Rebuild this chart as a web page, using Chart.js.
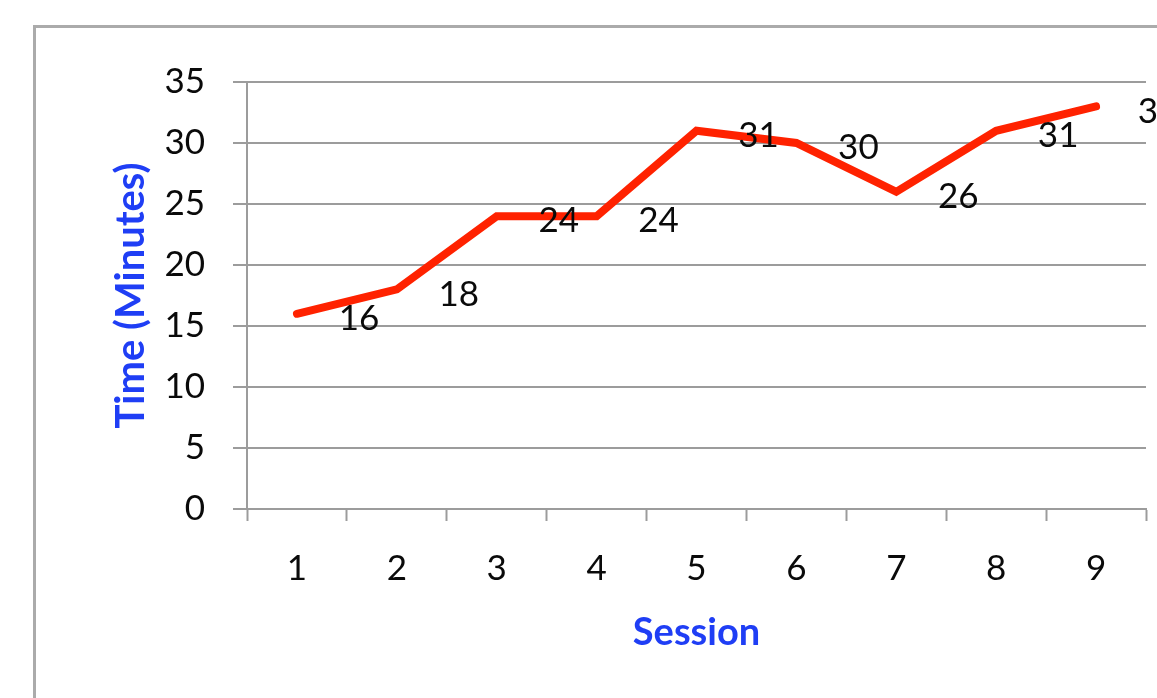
<!DOCTYPE html>
<html>
<head>
<meta charset="utf-8">
<title>Session times</title>
<script src="https://cdn.jsdelivr.net/npm/chart.js@4.4.1/dist/chart.umd.min.js"></script>
<style>
  html, body { margin: 0; padding: 0; background: #ffffff; }
  #wrap { width: 1157px; height: 698px; position: relative; }
</style>
</head>
<body>
<div id="wrap"><canvas id="chart" width="1157" height="698"></canvas></div>
<script>
// Session numbers along the bottom
const sessions = ['1', '2', '3', '4', '5', '6', '7', '8', '9'];
// Minutes spent in each session
const minutes = [16, 18, 24, 24, 31, 30, 26, 31, 33];
// Value axis range and step
const yMin = 0;
const yMax = 35;
const yStep = 5;

const FONT = 'Lato, "Open Sans", "DejaVu Sans", sans-serif';
const GRID = '#9c9c9c';
const TITLE_BLUE = '#1f3ef5';

// Grey frame around the chart
const framePlugin = {
  id: 'frame',
  beforeDraw(chart) {
    const ctx = chart.ctx;
    ctx.save();
    ctx.fillStyle = '#ffffff';
    ctx.fillRect(0, 0, chart.width, chart.height);
    ctx.strokeStyle = '#ababab';
    ctx.lineWidth = 3;
    ctx.strokeRect(34.5, 26.5, chart.width + 40, chart.height + 40);
    ctx.restore();
  }
};

// Value labels written beside each point of the line
const valueLabels = {
  id: 'valueLabels',
  afterDatasetsDraw(chart) {
    const ctx = chart.ctx;
    const meta = chart.getDatasetMeta(0);
    const data = chart.data.datasets[0].data;
    ctx.save();
    ctx.font = '35px ' + FONT;
    ctx.fillStyle = '#0a0a0a';
    ctx.textAlign = 'center';
    ctx.textBaseline = 'middle';
    meta.data.forEach((pt, i) => {
      ctx.fillText(String(data[i]), pt.x + 62, pt.y + 5);
    });
    ctx.restore();
  }
};

new Chart(document.getElementById('chart'), {
  type: 'line',
  data: {
    labels: sessions,
    datasets: [{
      data: minutes,
      borderColor: '#ff2200',
      borderWidth: 8,
      borderCapStyle: 'round',
      borderJoinStyle: 'miter',
      pointRadius: 0,
      pointHoverRadius: 0,
      tension: 0,
      fill: false
    }]
  },
  options: {
    responsive: false,
    animation: false,
    devicePixelRatio: 1,
    events: [],
    layout: { padding: { left: 0, right: 11, top: 82, bottom: 0 } },
    plugins: {
      legend: { display: false },
      tooltip: { enabled: false }
    },
    scales: {
      x: {
        type: 'category',
        offset: true,
        afterFit(scale) { scale.height = 189; },
        grid: {
          offset: true,
          drawOnChartArea: false,
          drawTicks: true,
          tickLength: 12,
          tickWidth: 2,
          tickColor: GRID,
          color: GRID
        },
        border: { display: true, color: GRID, width: 2 },
        ticks: {
          color: '#0a0a0a',
          font: { family: FONT, size: 35 },
          padding: 27,
          maxRotation: 0,
          autoSkip: false
        },
        title: {
          display: true,
          text: 'Session',
          color: TITLE_BLUE,
          font: { family: FONT, size: 38, weight: 'bold' },
          padding: { top: 0, bottom: 42 }
        }
      },
      y: {
        min: yMin,
        max: yMax,
        afterFit(scale) { scale.width = 247; },
        grid: {
          drawOnChartArea: true,
          drawTicks: true,
          tickLength: 14,
          lineWidth: 2,
          tickWidth: 2,
          color: GRID,
          tickColor: GRID
        },
        border: { display: true, color: GRID, width: 2 },
        ticks: {
          stepSize: yStep,
          color: '#0a0a0a',
          font: { family: FONT, size: 35 },
          padding: 28
        },
        title: {
          display: true,
          text: 'Time (Minutes)',
          color: TITLE_BLUE,
          font: { family: FONT, size: 40, weight: 'bold' },
          padding: { top: 107, bottom: 0 }
        }
      }
    }
  },
  plugins: [framePlugin, valueLabels]
});
</script>
</body>
</html>
